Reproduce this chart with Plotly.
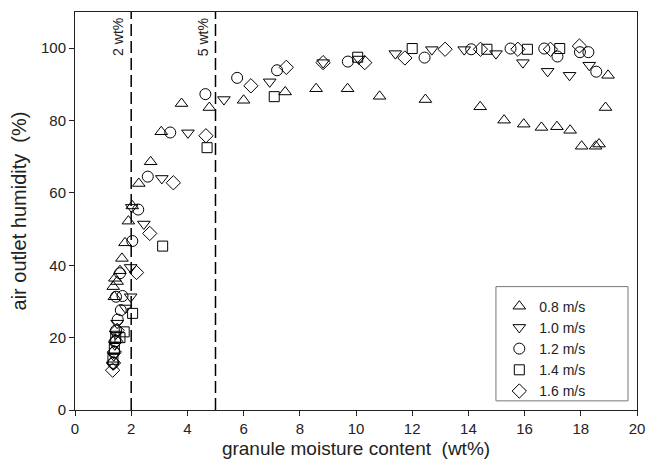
import plotly.graph_objects as go

# 0.8 m/s
x08 = [1.40, 1.36, 1.42, 1.50, 1.60, 1.67, 1.78, 1.90, 2.04, 2.27, 2.69, 3.07, 3.79, 4.78, 6.00, 7.48,
       8.58, 9.70, 10.84, 12.47, 14.42, 15.27, 15.97, 16.60, 17.15, 17.62, 18.03, 18.53, 18.65, 18.88, 18.97]
y08 = [31.3, 34.1, 36.4, 35.5, 38.5, 41.9, 46.2, 52.2, 56.4, 62.6, 68.6, 76.9, 84.7, 83.6, 85.6, 87.9,
       88.8, 88.8, 86.7, 85.8, 83.8, 80.1, 79.0, 78.1, 78.3, 77.3, 72.9, 72.9, 73.5, 83.6, 92.5]
# 1.0 m/s
x10 = [1.35, 1.38, 1.42, 1.45, 1.50, 1.80, 1.98, 1.98, 2.02, 2.45, 3.09, 4.02, 5.30, 6.93, 8.83,
       10.10, 11.40, 12.70, 13.85, 14.98, 15.94, 16.82, 17.60, 18.30]
y10 = [12.5, 15.0, 18.0, 21.0, 24.0, 28.2, 31.3, 39.4, 56.0, 51.4, 64.0, 76.6, 85.8, 90.7, 96.0,
       97.0, 98.5, 99.6, 99.6, 98.5, 96.0, 93.6, 92.5, 95.3]
# 1.2 m/s
x12 = [1.36, 1.40, 1.43, 1.46, 1.52, 1.63, 1.46, 1.69, 1.60, 2.04, 2.25, 2.59, 3.39, 4.64, 5.77,
       7.19, 9.71, 12.44, 14.10, 15.50, 16.70, 17.17, 17.97, 18.27, 18.55]
y12 = [13.0, 16.0, 19.0, 22.0, 25.0, 27.6, 31.3, 31.5, 37.8, 46.7, 55.4, 64.5, 76.7, 87.3, 91.8,
       93.9, 96.3, 97.4, 99.7, 99.9, 99.9, 97.7, 98.9, 98.9, 93.5]
# 1.4 m/s
x14 = [1.35, 1.40, 1.45, 1.60, 1.75, 2.05, 3.12, 4.70, 7.09, 10.06, 12.00, 14.66, 16.10, 17.25]
y14 = [14.0, 17.0, 20.0, 20.0, 21.6, 26.7, 45.3, 72.5, 86.6, 97.5, 99.9, 99.7, 99.7, 99.9]
# 1.6 m/s
x16 = [1.34, 1.37, 1.40, 1.45, 1.50, 2.19, 2.66, 3.50, 4.66, 6.26, 7.52, 8.83, 10.31, 11.74,
       13.17, 14.43, 15.76, 16.92, 17.95]
y16 = [11.0, 13.0, 16.0, 19.0, 22.0, 38.0, 48.8, 62.8, 75.8, 89.6, 94.7, 96.0, 96.0, 97.3,
       99.7, 99.7, 99.7, 99.7, 100.6]

series = [
    ("0.8 m/s", x08, y08, "triangle-up-open", 11),
    ("1.0 m/s", x10, y10, "triangle-down-open", 11),
    ("1.2 m/s", x12, y12, "circle-open", 11),
    ("1.4 m/s", x14, y14, "square-open", 10),
    ("1.6 m/s", x16, y16, "diamond-open", 11),
]

x_ticks = [0, 2, 4, 6, 8, 10, 12, 14, 16, 18, 20]
y_ticks = [0, 20, 40, 60, 80, 100]
ref_lines = [2, 5]
ref_labels = ["2 wt%", "5 wt%"]

font = "Liberation Sans, Arial, sans-serif"
fig = go.Figure()
for name, xs, ys, sym, sz in series:
    fig.add_trace(go.Scatter(x=xs, y=ys, mode="markers", name=name,
                             marker=dict(symbol=sym, size=sz, color="black",
                                         line=dict(color="black", width=1))))

for xv, lab in zip(ref_lines, ref_labels):
    fig.add_shape(type="line", x0=xv, x1=xv, y0=0, y1=110, xref="x", yref="y",
                  line=dict(color="black", width=1.5, dash="12px,5px"))
    fig.add_annotation(x=xv - 0.45, y=103, text=lab, textangle=-90, showarrow=False,
                       xanchor="center", yanchor="middle",
                       font=dict(family=font, size=14, color="#222"))

# legend frame
fig.add_shape(type="rect", xref="paper", yref="paper", x0=0.749, x1=0.984, y0=0.023, y1=0.310,
              line=dict(color="#777", width=1), fillcolor="white", layer="below")

fig.update_layout(
    width=638, height=451,
    margin=dict(l=67, r=9, t=4, b=49),
    plot_bgcolor="white", paper_bgcolor="white",
    font=dict(family=font, size=15, color="#222"),
    showlegend=True,
    legend=dict(x=0.755, y=0.300, xanchor="left", yanchor="top",
                borderwidth=0, bgcolor="rgba(0,0,0,0)",
                font=dict(family=font, size=14, color="#222"),
                tracegroupgap=0, itemwidth=30),
    xaxis=dict(range=[0, 20], tickvals=x_ticks, showgrid=False, zeroline=False,
               showline=True, linecolor="#222", linewidth=1, mirror=True,
               ticks="outside", ticklen=5, tickcolor="#222", automargin=False,
               ticklabeloverflow="allow",
               title=dict(text="granule moisture content  (wt%)", font=dict(size=19), standoff=6)),
    yaxis=dict(range=[0, 110], tickvals=y_ticks, showgrid=False, zeroline=False,
               showline=True, linecolor="#222", linewidth=1, mirror=True,
               ticks="outside", ticklen=5, tickcolor="#222", automargin=False,
               title=dict(text="air outlet humidity  (%)", font=dict(size=20), standoff=12)),
)

fig.write_html("out.html")
